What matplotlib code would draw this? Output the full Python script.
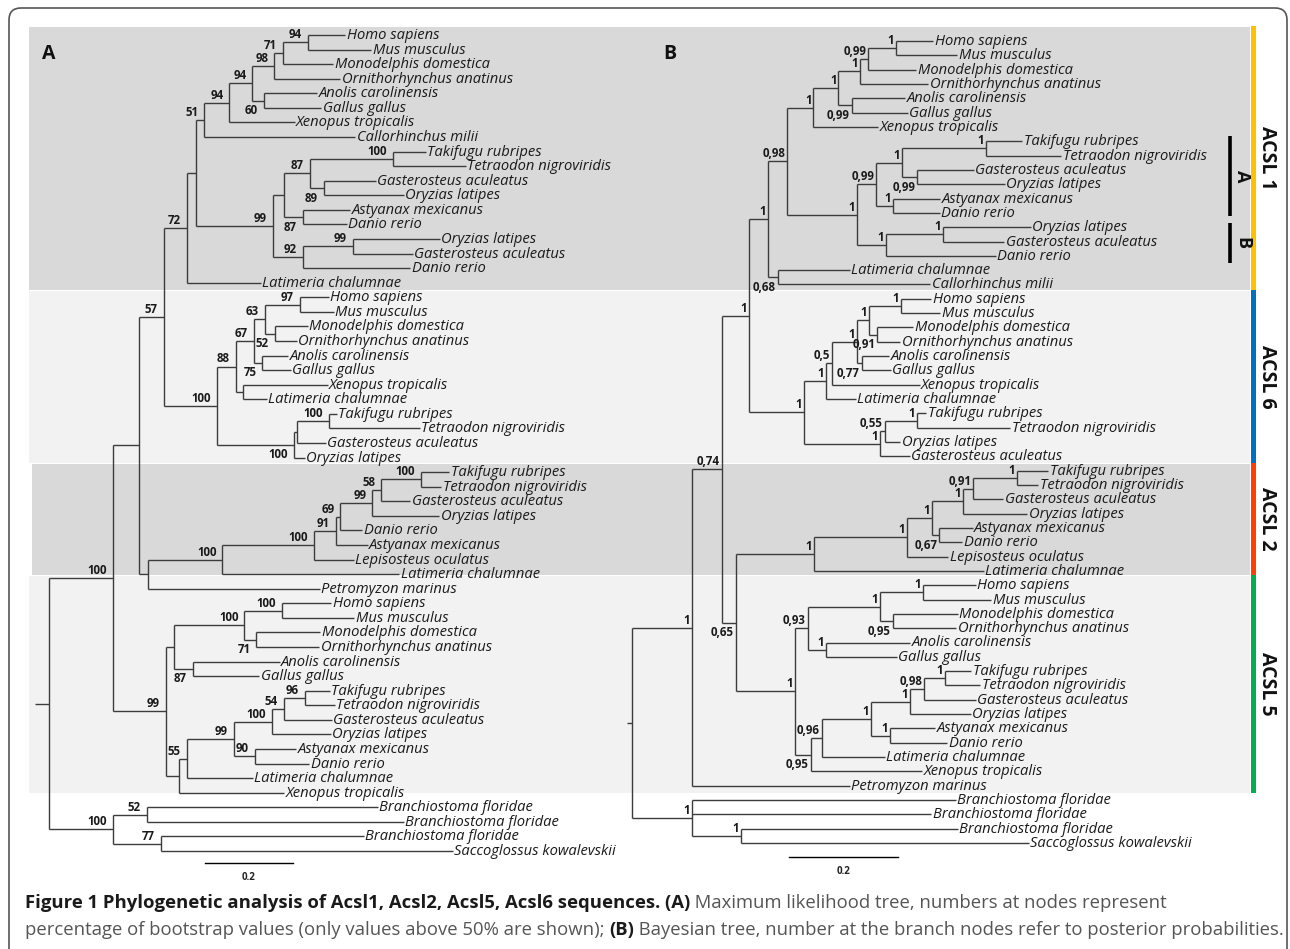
import matplotlib
matplotlib.use('Agg')
import matplotlib.pyplot as plt
from matplotlib.collections import LineCollection
from matplotlib.patches import Rectangle, FancyBboxPatch

# ---- tree A: maximum likelihood, bootstrap support (suffix "_" = label drawn under the branch)
A_ACSL1 = ("((((((((Homo sapiens:0.084,Mus musculus:0.143)94:0.057,Monodelphis domestica:0.114)71:0.020,"
           "Ornithorhynchus anatinus:0.150)98:0.050,(Anolis carolinensis:0.120,Gallus gallus:0.130)60_:0.027)94:0.052,"
           "Xenopus tropicalis:0.148)94:0.057,Callorhinchus milii:0.343)51:0.020,"
           "((((Takifugu rubripes:0.075,Tetraodon nigroviridis:0.166)100:0.189,"
           "(Gasterosteus aculeatus:0.118,Oryzias latipes:0.182)89_:0.032)87:0.057,"
           "(Astyanax mexicanus:0.109,Danio rerio:0.100)87_:0.041):0.027,"
           "((Oryzias latipes:0.198,Gasterosteus aculeatus:0.136)99:0.114,Danio rerio:0.245)92:0.068)99:0.175):0.020,"
           "Latimeria chalumnae:0.168)72:0.052")
A_ACSL6 = ("(((((Homo sapiens:0.066,Mus musculus:0.077)97:0.080,"
           "(Monodelphis domestica:0.075,Ornithorhynchus anatinus:0.050)52_:0.023)63:0.025,"
           "(Anolis carolinensis:0.059,Gallus gallus:0.064)75_:0.020)67:0.041,"
           "(Xenopus tropicalis:0.193,Latimeria chalumnae:0.055):0.016)88:0.043,"
           "(((Takifugu rubripes:0.018,Tetraodon nigroviridis:0.207)100:0.073,Gasterosteus aculeatus:0.066):0.007,"
           "Oryzias latipes:0.025)100_:0.175)100:0.120")
A_ACSL2 = ("(((((((Takifugu rubripes:0.064,Tetraodon nigroviridis:0.045)100:0.091,Gasterosteus aculeatus:0.066)58:0.020,"
           "Oryzias latipes:0.152)99:0.073,Danio rerio:0.050)69:0.011,Astyanax mexicanus:0.073)91:0.050,"
           "Lepisosteus oculatus:0.091)100:0.207,Latimeria chalumnae:0.402)100:0.170")
A_ACSL5 = ("((((Homo sapiens:0.111,Mus musculus:0.164)100:0.086,"
           "(Monodelphis domestica:0.145,Ornithorhynchus anatinus:0.143)71_:0.027)100:0.159,"
           "(Anolis carolinensis:0.198,Gallus gallus:0.152)87_:0.041):0.020,"
           "((((((Takifugu rubripes:0.057,Tetraodon nigroviridis:0.068)96:0.048,Gasterosteus aculeatus:0.109)54:0.027,"
           "Oryzias latipes:0.134)100:0.086,(Astyanax mexicanus:0.093,Danio rerio:0.123)90:0.048)99:0.107,"
           "Latimeria chalumnae:0.150)55:0.018,Xenopus tropicalis:0.239):0.030)99:0.120")
A_OUT = ("((Branchiostoma floridae:0.525,Branchiostoma floridae:0.584)52:0.077,"
         "(Branchiostoma floridae:0.461,Saccoglossus kowalevskii:0.664)77:0.109)100:0.145")
TREE_A = ("((((" + A_ACSL1 + "," + A_ACSL6 + ")57:0.057,(" + A_ACSL2 + ",Petromyzon marinus:0.391):0.020):0.059,"
          + A_ACSL5 + ")100:0.145," + A_OUT + "):0.032;")

# ---- tree B: bayesian, posterior probabilities
B_ACSL1 = ("(((((((Homo sapiens:0.068,Mus musculus:0.112)1:0.051,Monodelphis domestica:0.088)0.99:0.015,"
           "Ornithorhynchus anatinus:0.125)1:0.040,(Anolis carolinensis:0.099,Gallus gallus:0.103)0.99_:0.024)1:0.046,"
           "Xenopus tropicalis:0.119)1:0.048,"
           "((((Takifugu rubripes:0.066,Tetraodon nigroviridis:0.138)1:0.154,"
           "(Gasterosteus aculeatus:0.103,Oryzias latipes:0.160)0.99_:0.028)1:0.048,"
           "(Astyanax mexicanus:0.086,Danio rerio:0.086)1:0.031)0.99:0.035,"
           "((Oryzias latipes:0.161,Gasterosteus aculeatus:0.112)1:0.105,Danio rerio:0.202)1:0.053)1:0.128)0.98:0.035,"
           "(Latimeria chalumnae:0.132,Callorhinchus milii:0.279)0.68_:0.018)1:0.035")
B_ACSL6 = ("((((((Homo sapiens:0.055,Mus musculus:0.072)1:0.059,"
           "(Monodelphis domestica:0.066,Ornithorhynchus anatinus:0.042)0.91_:0.015)1:0.022,"
           "(Anolis carolinensis:0.050,Gallus gallus:0.053)0.77_:0.009)1:0.046,Xenopus tropicalis:0.161)0.5:0.011,"
           "Latimeria chalumnae:0.055)1:0.040,"
           "(((Takifugu rubripes:0.017,Tetraodon nigroviridis:0.171)1:0.059,Oryzias latipes:0.028)0.55:0.009,"
           "Gasterosteus aculeatus:0.055)1:0.139)1:0.101")
B_ACSL2 = ("((((((Takifugu rubripes:0.057,Tetraodon nigroviridis:0.039)1:0.081,Gasterosteus aculeatus:0.055)0.91:0.018,"
           "Oryzias latipes:0.117)1:0.057,(Astyanax mexicanus:0.061,Danio rerio:0.042)0.67_:0.013)1:0.046,"
           "Lepisosteus oculatus:0.075)1:0.171,Latimeria chalumnae:0.312)1:0.143")
B_ACSL5 = ("((((Homo sapiens:0.097,Mus musculus:0.125)1:0.079,"
           "(Monodelphis domestica:0.119,Ornithorhynchus anatinus:0.116)0.95_:0.024)1:0.132,"
           "(Anolis carolinensis:0.154,Gallus gallus:0.130)1:0.033)0.93:0.024,"
           "((((((Takifugu rubripes:0.048,Tetraodon nigroviridis:0.064)1:0.039,Gasterosteus aculeatus:0.095)0.98:0.026,"
           "Oryzias latipes:0.112)1:0.072,(Astyanax mexicanus:0.083,Danio rerio:0.106)1:0.035)1:0.090,"
           "Latimeria chalumnae:0.116)0.96:0.020,Xenopus tropicalis:0.204)0.95_:0.029)1:0.108")
B_OUT = ("(Branchiostoma floridae:0.484,Branchiostoma floridae:0.439,"
         "(Branchiostoma floridae:0.398,Saccoglossus kowalevskii:0.528)1:0.090)1:0.110")
TREE_B = ("((((" + B_ACSL1 + "," + B_ACSL6 + ")1:0.050,(" + B_ACSL2 + "," + B_ACSL5 + ")0.65_:0.026)0.74:0.055,"
          "Petromyzon marinus:0.290)1:0.110," + B_OUT + "):0.009;")

groups = ['ACSL 1', 'ACSL 6', 'ACSL 2', 'ACSL 5']
group_colors = ['#ffc000', '#0070c0', '#ff4000', '#00b050']
band_shades = ['#d9d9d9', '#f2f2f2', '#d9d9d9', '#f2f2f2']
band_edges = [26, 290, 463, 575, 793]
scale_value = 0.2

caption1 = [("Figure 1 Phylogenetic analysis of Acsl1, Acsl2, Acsl5, Acsl6 sequences. (A)", True),
            (" Maximum likelihood tree, numbers at nodes represent", False)]
caption2 = [("percentage of bootstrap values (only values above 50% are shown); ", False),
            ("(B)", True),
            (" Bayesian tree, number at the branch nodes refer to posterior probabilities.", False)]


def parse_newick(s):
    pos = 0

    def read():
        nonlocal pos
        node = {'children': [], 'name': '', 'support': '', 'length': 0.0}
        if s[pos] == '(':
            pos += 1
            node['children'].append(read())
            while s[pos] == ',':
                pos += 1
                node['children'].append(read())
            pos += 1
        start = pos
        while s[pos] not in ':,);':
            pos += 1
        label = s[start:pos]
        if node['children']:
            node['support'] = label
        else:
            node['name'] = label
        if s[pos] == ':':
            pos += 1
            start = pos
            while s[pos] not in ',);':
                pos += 1
            node['length'] = float(s[start:pos])
        return node

    return read()


def layout(node, depth, leaves):
    node['x'] = depth + node['length']
    if node['children']:
        for c in node['children']:
            layout(c, node['x'], leaves)
        node['y'] = (node['children'][0]['y'] + node['children'][-1]['y']) / 2
    else:
        node['y'] = len(leaves)
        leaves.append(node)


SANS = ['Open Sans', 'DejaVu Sans']
LINE = '#3c3c3c'


def draw_tree(ax, newick, x0, scale, y0, dy, lab_dx, fmt):
    tree = parse_newick(newick)
    layout(tree, 0.0, [])
    segs = []

    def walk(n, parent_x):
        X = x0 + n['x'] * scale
        Y = y0 + n['y'] * dy
        segs.append([(x0 + parent_x * scale, Y), (X, Y)])
        if n['children']:
            ys = [y0 + c['y'] * dy for c in n['children']]
            segs.append([(X, ys[0]), (X, ys[-1])])
            for c in n['children']:
                walk(c, n['x'])
            if n['support']:
                below = n['support'].endswith('_')
                ax.text(X - lab_dx, Y + 3.5 if below else Y - 1, fmt(n['support'].rstrip('_')),
                        ha='right', va='top' if below else 'bottom', fontsize=8.3,
                        fontweight='bold', family=SANS, color='#1a1a1a')
        else:
            ax.text(X + 1.5, Y + 0.5, n['name'], ha='left', va='center', fontsize=10.6,
                    style='italic', family=SANS, color='#1a1a1a')

    walk(tree, 0.0)
    ax.add_collection(LineCollection(segs, colors=LINE, linewidths=1.0))


fig = plt.figure(figsize=(12.9, 9.49), dpi=100)
ax = fig.add_axes([0, 0, 1, 1])
ax.set_xlim(0, 1290)
ax.set_ylim(949, 0)
ax.axis('off')

# outer frame
ax.add_patch(FancyBboxPatch((9, 8), 1278, 970, boxstyle='round,pad=0,rounding_size=12',
                            fc='white', ec='#555555', lw=1.2, zorder=0))

# clade bands and coloured bars
for i, g in enumerate(groups):
    top, bot = band_edges[i], band_edges[i + 1]
    left = 32 if i == 2 else 29
    ax.add_patch(Rectangle((left, top + 0.5), 1250 - left, bot - top - 1, fc=band_shades[i], ec='none', zorder=0.5))
    ax.add_patch(Rectangle((1251, top), 5, bot - top, fc=group_colors[i], ec='none', zorder=1))
    ax.text(1267, (top + bot) / 2, g, rotation=-90, ha='center', va='center', fontsize=14,
            fontweight='bold', family=SANS, color='#111111')

# ACSL1 sub groups
for lab, (t, b) in zip(['A', 'B'], [(136, 216), (223, 263)]):
    ax.plot([1230, 1230], [t, b], color='black', lw=2.6, solid_capstyle='butt')
    ax.text(1242, (t + b) / 2, lab, rotation=-90, ha='center', va='center', fontsize=13,
            fontweight='bold', family=SANS, color='#111111')

# trees
draw_tree(ax, TREE_A, 35, 440, 35, (851 - 35) / 56, 6, lambda s: s)
draw_tree(ax, TREE_B, 627, 545, 41, (843 - 41) / 56, 2, lambda s: s.replace('.', ','))

ax.text(42, 54, 'A', fontsize=14, fontweight='bold', family=SANS, va='center', ha='left', color='#111111')
ax.text(663, 54, 'B', fontsize=14, fontweight='bold', family=SANS, va='center', ha='left', color='#111111')

# scale bars
for sx, sy, sc in [(205, 863, 440), (789, 857, 545)]:
    ax.plot([sx, sx + scale_value * sc], [sy, sy], color='black', lw=1.0)
    ax.text(sx + scale_value * sc / 2, sy + 14, '0.2', ha='center', va='center', fontsize=7,
            fontweight='bold', family=SANS, color='#222222')

# caption, fitted to the reference line width
fig.canvas.draw()
renderer = fig.canvas.get_renderer()
CAP = ['Open Sans', 'DejaVu Sans']


def line_width(parts, size):
    w = 0
    for txt, bold in parts:
        t = ax.text(0, 0, txt, fontsize=size, fontweight='bold' if bold else 'normal', family=CAP)
        w += t.get_window_extent(renderer=renderer).width
        t.remove()
    return w


cap_size = 12 * 1248 / line_width(caption2, 12)
for parts, y in [(caption1, 908), (caption2, 935)]:
    x = 25
    for txt, bold in parts:
        t = ax.text(x, y, txt, fontsize=cap_size, fontweight='bold' if bold else 'normal', family=CAP,
                    va='baseline', ha='left', color='#1a1a1a' if bold else '#555555')
        x += t.get_window_extent(renderer=renderer).width

fig.savefig('out.png', dpi=100)
